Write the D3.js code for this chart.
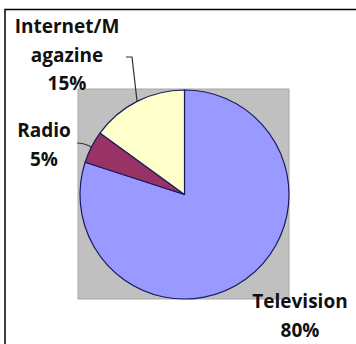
<!DOCTYPE html>
<html><head><meta charset="utf-8">
<script src="https://cdn.jsdelivr.net/npm/d3@7"></script>
<style>html,body{margin:0;padding:0;background:#fff;}svg{display:block;}</style>
</head><body>
<script>
const categories = ["Television", "Radio", "Internet/Magazine"];
const values = [80, 5, 15];
const colors = ["#9999FF", "#993366", "#FFFFCC"];
const labelLines = [["Television", "80%"], ["Radio", "5%"], ["Internet/M", "agazine", "15%"]];

const W = 356, H = 344;
const svg = d3.select("body").append("svg").attr("width", W).attr("height", H);

// outer chart border (only left/top visible)
svg.append("rect").attr("x", 5).attr("y", 9.5).attr("width", 400).attr("height", 400)
  .attr("fill", "#fff").attr("stroke", "#000").attr("stroke-width", 1.5);

// plot area
svg.append("rect").attr("x", 78).attr("y", 89).attr("width", 211).attr("height", 210)
  .attr("fill", "#C0C0C0").attr("stroke", "#A8A8A8").attr("stroke-width", 1);

const cx = 184.5, cy = 194.5, r = 104.5;
const pie = d3.pie().sort(null).value(d => d)(values);
const arc = d3.arc().innerRadius(0).outerRadius(r);
const g = svg.append("g").attr("transform", `translate(${cx},${cy})`);
g.selectAll("path").data(pie).join("path")
  .attr("d", arc).attr("fill", (d, i) => colors[i])
  .attr("stroke", "#1a1a5e").attr("stroke-width", 1.2).attr("stroke-linejoin", "round");

// leader lines
const mid = d => (d.startAngle + d.endAngle) / 2;
const pt = (d, rr) => [cx + rr * Math.sin(mid(d)), cy - rr * Math.cos(mid(d))];
const pI = pt(pie[2], r), pR = pt(pie[1], r);
svg.append("path").attr("d", `M126,57 L132,57 L${pI[0]},${pI[1]}`)
  .attr("fill", "none").attr("stroke", "#333").attr("stroke-width", 1.2);
svg.append("path").attr("d", `M77,143 Q84,143 ${pR[0]},${pR[1]}`)
  .attr("fill", "none").attr("stroke", "#333").attr("stroke-width", 1.2);

// labels
const labelPos = [[300, 308], [44, 137], [67, 33]];
labelLines.forEach((lines, i) => {
  const t = svg.append("text").attr("text-anchor", "middle")
    .attr("font-family", "'Open Sans', sans-serif").attr("font-weight", "bold")
    .attr("font-size", 19).attr("fill", "#111");
  lines.forEach((s, j) => {
    t.append("tspan").attr("x", labelPos[i][0]).attr("y", labelPos[i][1] + j * 28.5).text(s);
  });
});
</script>
</body></html>
